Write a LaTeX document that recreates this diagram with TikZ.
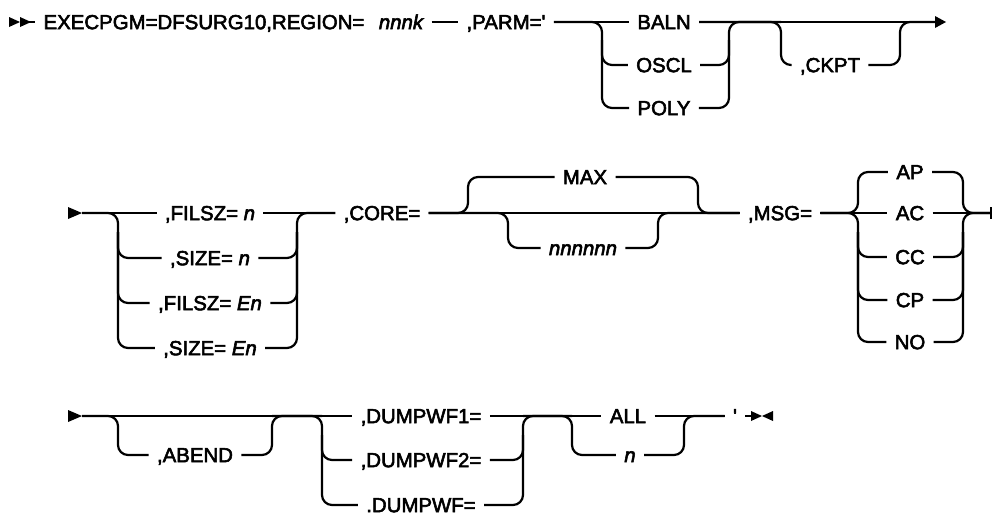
\documentclass[tikz,border=0pt]{standalone}
\usepackage{fontspec}
\setmainfont{Liberation Sans}
\usepackage{tikz}
\newcommand{\railink}{\special{pdf:literal direct 2 Tr 0.28 w}}
\tikzset{
  rail/.style={line width=1.1pt, rounded corners=5pt},
  kw/.style={inner xsep=4pt, inner ysep=0pt, text height=7.2pt, text depth=0pt, font=\fontsize{10.2}{12}\selectfont\railink},
  var/.style={kw, font=\fontsize{10.2}{12}\selectfont\railink\itshape},
}
\begin{document}
\begin{tikzpicture}[x=0.5pt,y=-0.5pt]
\useasboundingbox (0,0) rectangle (992,514);
% row 1
\node[kw] (n0) at (204,22) {EXECPGM=DFSURG10,REGION=};
\node[var] (nnnk) at (401,22) {nnnk};
\node[kw] (parm) at (506,22) {,PARM=\textquotesingle};
\node[kw] (baln) at (664,22) {BALN};
\node[kw] (oscl) at (664,65) {OSCL};
\node[kw] (poly) at (664,108) {POLY};
\node[kw] (ckpt) at (830,65) {,CKPT};
\coordinate (s1) at (20,22);
\coordinate (pl) at (602,22);
\coordinate (plm) at (602,40);
\coordinate (pr) at (729,22);
\coordinate (prm) at (729,40);
\coordinate (cl) at (781,22);
\coordinate (cr) at (900,22);
\coordinate (e1) at (935,22);
\fill (9,17) -- (20,22) -- (9,27) -- cycle;
\fill (20,17) -- (31,22) -- (20,27) -- cycle;
\draw[rail] (s1) to (n0);
\draw[rail] (nnnk) to (parm);
\draw[rail] (parm) to (baln);
\draw[rail] (baln) to (e1);
\draw[rail] (parm.east) -- (pl) |- (poly.west);
\draw[rail] (plm) |- (oscl.west);
\draw[rail] (poly.east) -| (pr) -- (cl);
\draw[rail] (oscl.east) -| (prm);
\draw[rail] (baln.east) -- (cl) |- (ckpt.west);
\draw[rail] (ckpt.east) -| (cr) -- (e1);
\fill (935,16) -- (946,22) -- (935,28) -- cycle;
% row 2
\node[kw] (filsz1) at (210,213) {,FILSZ= \textit{n}};
\node[kw] (size1) at (210,258) {,SIZE= \textit{n}};
\node[kw] (filsz2) at (210,303) {,FILSZ= \textit{En}};
\node[kw] (size2) at (210,348) {,SIZE= \textit{En}};
\node[kw] (core) at (382,213) {,CORE=};
\node[kw] (max) at (585,177) {MAX};
\node[var] (nn6) at (583,248) {nnnnnn};
\node[kw] (msg) at (780,213) {,MSG=};
\node[kw] (ap) at (910,172) {AP};
\node[kw] (ac) at (910,213) {AC};
\node[kw] (cc) at (910,257) {CC};
\node[kw] (cp) at (910,300) {CP};
\node[kw] (no) at (910,342) {NO};
\coordinate (s2) at (82,213);
\coordinate (fl) at (118,213);
\coordinate (flm) at (118,232);
\coordinate (fr) at (297,213);
\coordinate (frm) at (297,232);
\coordinate (xl) at (468,177);
\coordinate (xr) at (698,213);
\coordinate (yl) at (508,213);
\coordinate (yr) at (658,213);
\coordinate (ml) at (858,213);
\coordinate (mlm) at (858,232);
\coordinate (mr) at (963,213);
\coordinate (mrm) at (963,232);
\coordinate (e2) at (991,213);
\fill (68,207) -- (82,213) -- (68,219) -- cycle;
\draw[rail] (s2) to (filsz1);
\draw[rail] (filsz1) to (core);
\draw[rail] (core) to (msg);
\draw[rail] (msg) to (ac);
\draw[rail] (ac) to (e2);
\draw[rail] (s2) -- (fl) |- (size2.west);
\draw[rail] (flm) |- (size1.west);
\draw[rail] (flm) |- (filsz2.west);
\draw[rail] (size2.east) -| (fr) -- (core.west);
\draw[rail] (size1.east) -| (frm);
\draw[rail] (filsz2.east) -| (frm);
\draw[rail] (core.east) -| (xl) -- (max.west);
\draw[rail] (max.east) -| (xr) -- (msg.west);
\draw[rail] (core.east) -- (yl) |- (nn6.west);
\draw[rail] (nn6.east) -| (yr) -- (msg.west);
\draw[rail] (msg.east) -- (ml) |- (ap.west);
\draw[rail] (msg.east) -- (ml) |- (no.west);
\draw[rail] (mlm) |- (cc.west);
\draw[rail] (mlm) |- (cp.west);
\draw[rail] (ap.east) -| (mr) -- (e2);
\draw[rail] (no.east) -| (mr) -- (e2);
\draw[rail] (cc.east) -| (mrm);
\draw[rail] (cp.east) -| (mrm);
\fill (990,207) rectangle (992,219);
% row 3
\node[kw] (abend) at (195,455) {,ABEND};
\node[kw] (dump1) at (421,416) {,DUMPWF1=};
\node[kw] (dump2) at (421,460) {,DUMPWF2=};
\node[kw] (dump3) at (421,505) {.DUMPWF=};
\node[kw] (all) at (628,416) {ALL};
\node[var] (nv) at (630,455) {n};
\node[kw] (apos) at (735,416) {\textquotesingle};
\coordinate (s3) at (82,416);
\coordinate (al) at (118,416);
\coordinate (ar) at (272,416);
\coordinate (dl) at (322,416);
\coordinate (dlm) at (322,435);
\coordinate (dr) at (523,416);
\coordinate (drm) at (523,435);
\coordinate (vl) at (572,416);
\coordinate (vr) at (684,416);
\coordinate (e3) at (751,416);
\fill (68,410) -- (82,416) -- (68,422) -- cycle;
\draw[rail] (s3) to (dump1);
\draw[rail] (dump1) to (all);
\draw[rail] (all) to (apos);
\draw[rail] (apos) to (e3);
\draw[rail] (s3) -- (al) |- (abend.west);
\draw[rail] (abend.east) -| (ar) -- (dl);
\draw[rail] (ar) -- (dl) |- (dump3.west);
\draw[rail] (dlm) |- (dump2.west);
\draw[rail] (dump3.east) -| (dr) -- (vl);
\draw[rail] (dump2.east) -| (drm);
\draw[rail] (dr) -- (vl) |- (nv.west);
\draw[rail] (nv.east) -| (vr) -- (apos.west);
\fill (751,411) -- (762,416) -- (751,421) -- cycle;
\fill (773,411) -- (762,416) -- (773,421) -- cycle;
\end{tikzpicture}
\end{document}
